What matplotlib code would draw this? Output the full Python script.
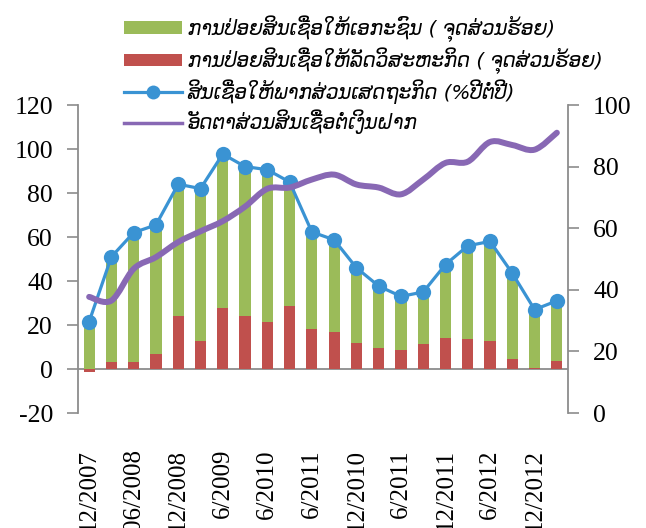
import numpy as np
import matplotlib
matplotlib.use("Agg")
import matplotlib.pyplot as plt
from matplotlib.lines import Line2D
from matplotlib.patches import Patch, PathPatch
from matplotlib.path import Path

plt.rcParams["axes.unicode_minus"] = False

# ---------------- data ----------------
tick_labels = ["12/2007", "06/2008", "12/2008", "6/2009", "6/2010", "6/2011",
               "12/2010", "6/2011", "12/2011", "6/2012", "12/2012"]
private_pp = [20, 48, 59, 58.5, 60, 69.5, 70, 68, 69, 56.5, 44, 42,
              34, 28.5, 24.5, 24, 33, 42.5, 45.5, 39, 26.5, 27.5]
soe_pp = [-1.5, 3, 3, 7, 24, 12.6, 27.8, 24, 21.5, 28.7, 18.4, 16.6,
          12, 9.4, 8.5, 11.2, 14.3, 13.5, 12.6, 4.5, 0.5, 3.5]
credit_growth = [21.5, 51, 62, 65.5, 84, 82, 97.7, 92, 90.6, 85, 62.3, 58.7,
                 46, 37.7, 33, 35, 47.5, 56, 58, 43.5, 27, 31]
loan_deposit = [37.7, 36.5, 46.8, 50.6, 55.5, 59, 62.3, 67, 72.8, 73.2, 75.8, 77.4,
                74.2, 73.2, 71, 75.8, 81.2, 81.6, 88, 87, 85.5, 91]

legend_labels = [
    "ການປ່ອຍສິນເຊື່ອໃຫ້ເອກະຊົນ ( ຈຸດສ່ວນຮ້ອຍ)",
    "ການປ່ອຍສິນເຊື່ອໃຫ້ລັດວິສະຫະກິດ ( ຈຸດສ່ວນຮ້ອຍ)",
    "ສິນເຊື່ອໃຫ້ພາກສ່ວນເສດຖະກິດ (%ປີຕໍ່ປີ)",
    "ອັດຕາສ່ວນສິນເຊື່ອຕໍ່ເງິນຝາກ",
]

GREEN = "#9BBB59"
RED = "#C0504D"
BLUE = "#3A93D3"
PURPLE = "#8868B4"
AXIS = "#8C8C8C"
SERIF = "Liberation Serif"

fig = plt.figure(figsize=(6.46, 5.28), dpi=100)
ax = fig.add_axes([78 / 646, 115 / 528, 490 / 646, 308 / 528])
ax2 = ax.twinx()

x = np.arange(len(private_pp))
soe = np.array(soe_pp)
ax.bar(x, soe, width=0.5, color=RED, zorder=2)
ax.bar(x, private_pp, width=0.5, bottom=np.clip(soe, 0, None), color=GREEN, zorder=2)
ax.plot(x, credit_growth, color=BLUE, lw=2.3, marker="o", ms=11,
        markeredgewidth=0, zorder=3)

# smoothed (Bezier) line for loan/deposit ratio
P = np.column_stack([x, loan_deposit]).astype(float)
n = len(P)
verts = [P[0]]
codes = [Path.MOVETO]
for i in range(n - 1):
    p0 = P[i - 1] if i > 0 else P[i]
    p1 = P[i]
    p2 = P[i + 1]
    p3 = P[i + 2] if i + 2 < n else P[i + 1]
    c1 = p1 + (p2 - p0) / 6.0
    c2 = p2 - (p3 - p1) / 6.0
    verts += [c1, c2, p2]
    codes += [Path.CURVE4] * 3
ax2.add_patch(PathPatch(Path(verts, codes), facecolor="none", edgecolor=PURPLE,
                        lw=4.3, capstyle="round", joinstyle="round", zorder=4))

ax.set_xlim(-0.5, len(x) - 0.5)
ax.set_ylim(-20, 120)
ax2.set_ylim(0, 100)
ax.set_yticks(np.arange(-20, 121, 20))
ax2.set_yticks(np.arange(0, 101, 20))
ax.set_xticks(x[::2])
ax.set_xticklabels(tick_labels, rotation=90, fontfamily=SERIF, fontsize=18,
                   va="top")
for lab in ax.get_yticklabels():
    lab.set_fontfamily(SERIF)
    lab.set_fontsize(18.5)
for lab in ax2.get_yticklabels():
    lab.set_fontfamily(SERIF)
    lab.set_fontsize(18.5)

ax.tick_params(axis="x", length=0, pad=26)
ax.tick_params(axis="y", length=8, width=1.2, color=AXIS, pad=10, direction="out")
ax2.tick_params(axis="y", length=8, width=1.2, color=AXIS, pad=10, direction="out")

for a in (ax, ax2):
    for s in ("top", "bottom"):
        a.spines[s].set_visible(False)
    a.spines["left"].set_color(AXIS)
    a.spines["right"].set_color(AXIS)
    a.spines["left"].set_linewidth(1.3)
    a.spines["right"].set_linewidth(1.3)
ax2.spines["left"].set_visible(False)
ax.spines["right"].set_visible(False)
ax.axhline(0, color=AXIS, lw=1.3, zorder=1)

handles = [
    Patch(facecolor=GREEN, edgecolor="none"),
    Patch(facecolor=RED, edgecolor="none"),
    Line2D([0], [0], color=BLUE, lw=2.3, marker="o", ms=10, markeredgewidth=0),
    Line2D([0], [0], color=PURPLE, lw=2.5),
]
leg = fig.legend(handles, legend_labels, loc="upper left",
                 bbox_to_anchor=(116 / 646, 1 - 7 / 528), frameon=False,
                 prop={"family": ["DejaVu Sans"], "style": "italic", "size": 14.3},
                 handlelength=2.9, handletextpad=0.3, labelspacing=0.28,
                 numpoints=1, borderaxespad=0, handleheight=0.6)

fig.savefig("out.png", dpi=100)
